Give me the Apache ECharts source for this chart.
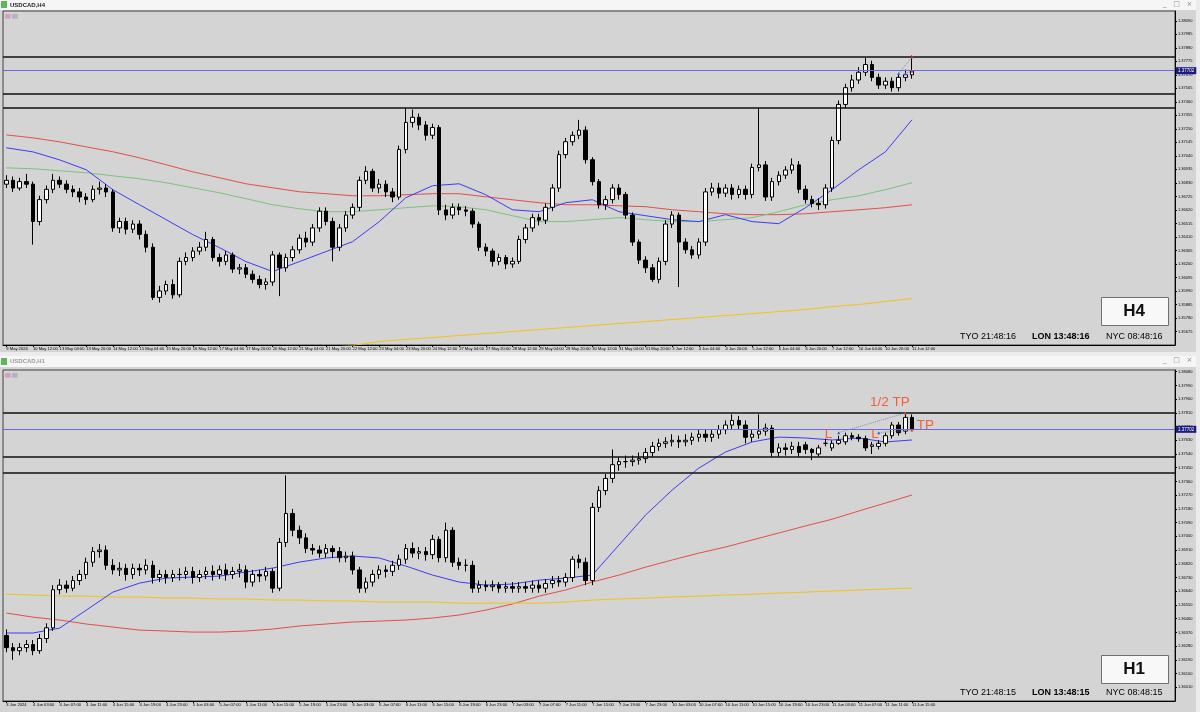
<!DOCTYPE html>
<html><head><meta charset="utf-8">
<script src="https://cdn.jsdelivr.net/npm/echarts@6/dist/echarts.min.js"></script>
<style>html,body{margin:0;padding:0;background:#d4d4d4;}#c{width:1200px;height:712px;}</style>
</head><body><div id="c"></div>
<script>
// ---------- DATA ----------
const h4Title = 'USDCAD,H4';
const h1Title = 'USDCAD,H1';
const h4Start = [2024, 4, 9, 20];   // 9 May 2024 20:00 (server time)
const h1Start = [2024, 5, 3, 23];   // 3 Jun 2024 23:00
const barCount = 137;
const futureBars = 39;
// [open, close, low, high]
const h4Ohlc = [
[1.3682,1.3685,1.3679,1.3689],[1.3685,1.3679,1.3676,1.3688],[1.3679,1.3684,1.3677,1.3687],[1.3684,1.3682,1.3679,1.3690],
[1.3682,1.3653,1.3635,1.3684],[1.3653,1.3670,1.3650,1.3673],[1.3670,1.3678,1.3667,1.3681],[1.3678,1.3685,1.3675,1.3690],
[1.3685,1.3682,1.3679,1.3688],[1.3682,1.3678,1.3675,1.3685],[1.3678,1.3676,1.3672,1.3681],[1.3676,1.3672,1.3668,1.3679],
[1.3672,1.3670,1.3666,1.3675],[1.3670,1.3678,1.3668,1.3681],[1.3678,1.3679,1.3674,1.3684],[1.3679,1.3676,1.3672,1.3682],
[1.3676,1.3648,1.3645,1.3678],[1.3648,1.3653,1.3644,1.3656],[1.3653,1.3647,1.3643,1.3656],[1.3647,1.3651,1.3644,1.3654],
[1.3651,1.3643,1.3639,1.3654],[1.3643,1.3633,1.3629,1.3646],[1.3633,1.3594,1.3592,1.3636],[1.3594,1.3599,1.3590,1.3603],
[1.3599,1.3604,1.3596,1.3607],[1.3604,1.3596,1.3593,1.3608],[1.3596,1.3622,1.3594,1.3625],[1.3622,1.3625,1.3619,1.3629],
[1.3625,1.3630,1.3622,1.3633],[1.3630,1.3633,1.3627,1.3637],[1.3633,1.3639,1.3630,1.3645],[1.3639,1.3625,1.3622,1.3641],
[1.3625,1.3622,1.3618,1.3628],[1.3622,1.3627,1.3619,1.3630],[1.3627,1.3616,1.3613,1.3629],[1.3616,1.3617,1.3612,1.3620],
[1.3617,1.3612,1.3609,1.3620],[1.3612,1.3608,1.3605,1.3615],[1.3608,1.3604,1.3601,1.3611],[1.3604,1.3606,1.3600,1.3609],
[1.3606,1.3627,1.3603,1.3630],[1.3627,1.3617,1.3595,1.3629],[1.3617,1.3625,1.3614,1.3628],[1.3625,1.3631,1.3622,1.3634],
[1.3631,1.3640,1.3628,1.3643],[1.3640,1.3637,1.3633,1.3645],[1.3637,1.3648,1.3634,1.3651],[1.3648,1.3661,1.3645,1.3664],
[1.3661,1.3653,1.3650,1.3664],[1.3653,1.3633,1.3622,1.3656],[1.3633,1.3648,1.3630,1.3651],[1.3648,1.3658,1.3645,1.3661],
[1.3658,1.3664,1.3655,1.3667],[1.3664,1.3685,1.3661,1.3688],[1.3685,1.3692,1.3682,1.3696],[1.3692,1.3679,1.3676,1.3694],
[1.3679,1.3682,1.3675,1.3686],[1.3682,1.3676,1.3672,1.3685],[1.3676,1.3672,1.3668,1.3679],[1.3672,1.3709,1.3670,1.3712],
[1.3709,1.3730,1.3706,1.3741],[1.3730,1.3734,1.3726,1.3740],[1.3734,1.3728,1.3724,1.3737],[1.3728,1.3720,1.3716,1.3731],
[1.3720,1.3726,1.3717,1.3729],[1.3726,1.3662,1.3658,1.3728],[1.3662,1.3658,1.3654,1.3666],[1.3658,1.3664,1.3655,1.3667],
[1.3664,1.3662,1.3658,1.3667],[1.3662,1.3661,1.3657,1.3665],[1.3661,1.3651,1.3648,1.3663],[1.3651,1.3633,1.3630,1.3653],
[1.3633,1.3630,1.3626,1.3636],[1.3630,1.3622,1.3618,1.3632],[1.3622,1.3625,1.3619,1.3628],[1.3625,1.3620,1.3616,1.3627],
[1.3620,1.3622,1.3617,1.3625],[1.3622,1.3639,1.3620,1.3642],[1.3639,1.3648,1.3636,1.3651],[1.3648,1.3656,1.3645,1.3659],
[1.3656,1.3654,1.3650,1.3659],[1.3654,1.3664,1.3651,1.3667],[1.3664,1.3679,1.3661,1.3682],[1.3679,1.3705,1.3676,1.3708],
[1.3705,1.3715,1.3702,1.3718],[1.3715,1.3720,1.3712,1.3723],[1.3720,1.3724,1.3717,1.3732],[1.3724,1.3701,1.3698,1.3727],
[1.3701,1.3684,1.3681,1.3703],[1.3684,1.3666,1.3663,1.3686],[1.3666,1.3670,1.3662,1.3673],[1.3670,1.3679,1.3667,1.3682],
[1.3679,1.3674,1.3670,1.3682],[1.3674,1.3658,1.3655,1.3676],[1.3658,1.3637,1.3634,1.3660],[1.3637,1.3623,1.3620,1.3639],
[1.3623,1.3617,1.3613,1.3626],[1.3617,1.3608,1.3606,1.3620],[1.3608,1.3622,1.3605,1.3625],[1.3622,1.3651,1.3619,1.3654],
[1.3651,1.3658,1.3648,1.3661],[1.3658,1.3637,1.3602,1.3660],[1.3637,1.3631,1.3628,1.3640],[1.3631,1.3627,1.3624,1.3634],
[1.3627,1.3637,1.3624,1.3640],[1.3637,1.3676,1.3634,1.3679],[1.3676,1.3679,1.3673,1.3683],[1.3679,1.3675,1.3671,1.3683],
[1.3675,1.3679,1.3672,1.3682],[1.3679,1.3674,1.3670,1.3682],[1.3674,1.3678,1.3671,1.3681],[1.3678,1.3674,1.3670,1.3681],
[1.3674,1.3695,1.3671,1.3698],[1.3695,1.3697,1.3692,1.3741],[1.3697,1.3672,1.3669,1.3700],[1.3672,1.3684,1.3669,1.3687],
[1.3684,1.3689,1.3681,1.3692],[1.3689,1.3693,1.3686,1.3696],[1.3693,1.3697,1.3690,1.3702],[1.3697,1.3678,1.3675,1.3700],
[1.3678,1.3670,1.3667,1.3681],[1.3670,1.3667,1.3664,1.3673],[1.3667,1.3666,1.3662,1.3671],[1.3666,1.3679,1.3663,1.3682],
[1.3679,1.3716,1.3676,1.3719],[1.3716,1.3744,1.3713,1.3747],[1.3744,1.3757,1.3741,1.3760],[1.3757,1.3763,1.3754,1.3767],
[1.3763,1.3769,1.3760,1.3773],[1.3769,1.3775,1.3766,1.3780],[1.3775,1.3765,1.3762,1.3778],[1.3765,1.3759,1.3756,1.3768],
[1.3759,1.3762,1.3756,1.3765],[1.3762,1.3757,1.3754,1.3765],[1.3757,1.3765,1.3754,1.3768],[1.3765,1.3767,1.3762,1.3771],
[1.3767,1.3770,1.3764,1.3782]
];
const h1Ohlc = [
[1.3635,1.3627,1.3624,1.3639],[1.3627,1.3625,1.3619,1.3630],[1.3625,1.3627,1.3622,1.3630],[1.3627,1.3629,1.3624,1.3632],
[1.3629,1.3625,1.3622,1.3632],[1.3625,1.3633,1.3623,1.3636],[1.3633,1.3640,1.3630,1.3643],[1.3640,1.3665,1.3638,1.3668],
[1.3665,1.3668,1.3662,1.3672],[1.3668,1.3666,1.3663,1.3671],[1.3666,1.3671,1.3664,1.3674],[1.3671,1.3675,1.3668,1.3678],
[1.3675,1.3683,1.3672,1.3686],[1.3683,1.3690,1.3680,1.3693],[1.3690,1.3691,1.3686,1.3695],[1.3691,1.3681,1.3678,1.3694],
[1.3681,1.3678,1.3675,1.3685],[1.3678,1.3679,1.3674,1.3683],[1.3679,1.3675,1.3671,1.3682],[1.3675,1.3679,1.3672,1.3682],
[1.3679,1.3678,1.3674,1.3682],[1.3678,1.3681,1.3675,1.3685],[1.3681,1.3673,1.3669,1.3684],[1.3673,1.3675,1.3670,1.3678],
[1.3675,1.3673,1.3669,1.3678],[1.3673,1.3675,1.3670,1.3678],[1.3675,1.3675,1.3671,1.3679],[1.3675,1.3677,1.3672,1.3680],
[1.3677,1.3673,1.3669,1.3680],[1.3673,1.3675,1.3670,1.3678],[1.3675,1.3677,1.3672,1.3680],[1.3677,1.3675,1.3671,1.3681],
[1.3675,1.3678,1.3672,1.3681],[1.3678,1.3675,1.3671,1.3682],[1.3675,1.3677,1.3672,1.3680],[1.3677,1.3678,1.3673,1.3682],
[1.3678,1.3670,1.3666,1.3681],[1.3670,1.3675,1.3667,1.3678],[1.3675,1.3674,1.3670,1.3678],[1.3674,1.3677,1.3671,1.3680],
[1.3677,1.3666,1.3663,1.3679],[1.3666,1.3696,1.3664,1.3699],[1.3696,1.3715,1.3693,1.3740],[1.3715,1.3704,1.3700,1.3718],
[1.3704,1.3699,1.3695,1.3707],[1.3699,1.3692,1.3689,1.3702],[1.3692,1.3691,1.3688,1.3695],[1.3691,1.3689,1.3686,1.3694],
[1.3689,1.3692,1.3686,1.3695],[1.3692,1.3690,1.3686,1.3694],[1.3690,1.3686,1.3683,1.3693],[1.3686,1.3687,1.3683,1.3690],
[1.3687,1.3678,1.3675,1.3690],[1.3678,1.3666,1.3663,1.3680],[1.3666,1.3670,1.3663,1.3673],[1.3670,1.3675,1.3667,1.3678],
[1.3675,1.3678,1.3672,1.3681],[1.3678,1.3677,1.3673,1.3681],[1.3677,1.3681,1.3674,1.3684],[1.3681,1.3685,1.3678,1.3688],
[1.3685,1.3692,1.3682,1.3695],[1.3692,1.3689,1.3686,1.3696],[1.3689,1.3690,1.3685,1.3693],[1.3690,1.3688,1.3684,1.3693],
[1.3688,1.3698,1.3685,1.3701],[1.3698,1.3686,1.3683,1.3700],[1.3686,1.3704,1.3683,1.3709],[1.3704,1.3683,1.3680,1.3706],
[1.3683,1.3681,1.3678,1.3686],[1.3681,1.3681,1.3677,1.3685],[1.3681,1.3666,1.3663,1.3684],[1.3666,1.3668,1.3663,1.3671],
[1.3668,1.3667,1.3664,1.3671],[1.3667,1.3668,1.3664,1.3671],[1.3668,1.3666,1.3663,1.3670],[1.3666,1.3667,1.3663,1.3670],
[1.3667,1.3666,1.3663,1.3670],[1.3666,1.3667,1.3663,1.3670],[1.3667,1.3666,1.3663,1.3670],[1.3666,1.3668,1.3663,1.3671],
[1.3668,1.3666,1.3663,1.3671],[1.3666,1.3669,1.3663,1.3672],[1.3669,1.3671,1.3666,1.3674],[1.3671,1.3670,1.3667,1.3674],
[1.3670,1.3673,1.3667,1.3676],[1.3673,1.3685,1.3670,1.3687],[1.3685,1.3683,1.3679,1.3688],[1.3683,1.3671,1.3668,1.3686],
[1.3671,1.3719,1.3668,1.3722],[1.3719,1.3730,1.3716,1.3733],[1.3730,1.3738,1.3727,1.3741],[1.3738,1.3747,1.3735,1.3757],
[1.3747,1.3749,1.3743,1.3752],[1.3749,1.3749,1.3745,1.3753],[1.3749,1.3750,1.3746,1.3753],[1.3750,1.3751,1.3747,1.3755],
[1.3751,1.3755,1.3748,1.3758],[1.3755,1.3759,1.3752,1.3762],[1.3759,1.3761,1.3756,1.3764],[1.3761,1.3762,1.3758,1.3765],
[1.3762,1.3763,1.3759,1.3767],[1.3763,1.3762,1.3758,1.3766],[1.3762,1.3763,1.3759,1.3767],[1.3763,1.3765,1.3760,1.3768],
[1.3765,1.3767,1.3762,1.3770],[1.3767,1.3765,1.3762,1.3770],[1.3765,1.3767,1.3762,1.3770],[1.3767,1.3770,1.3764,1.3773],
[1.3770,1.3773,1.3767,1.3776],[1.3773,1.3776,1.3770,1.3780],[1.3776,1.3773,1.3770,1.3779],[1.3773,1.3765,1.3761,1.3776],
[1.3765,1.3767,1.3762,1.3770],[1.3767,1.3769,1.3764,1.3780],[1.3769,1.3771,1.3766,1.3774],[1.3771,1.3755,1.3752,1.3773],
[1.3755,1.3758,1.3752,1.3761],[1.3758,1.3757,1.3753,1.3761],[1.3757,1.3759,1.3754,1.3762],[1.3759,1.3755,1.3752,1.3762],
[1.3760,1.3757,1.3754,1.3762],[1.3757,1.3755,1.3750,1.3758],[1.3754,1.3758,1.3752,1.3760],[1.3761,1.3761,1.3759,1.3764],
[1.3758,1.3761,1.3756,1.3763],[1.3761,1.3763,1.3760,1.3766],[1.3762,1.3766,1.3760,1.3768],[1.3766,1.3765,1.3763,1.3768],
[1.3765,1.3764,1.3762,1.3767],[1.3764,1.3758,1.3756,1.3766],[1.3759,1.3760,1.3754,1.3762],[1.3759,1.3761,1.3757,1.3763],
[1.3761,1.3766,1.3759,1.3768],[1.3766,1.3773,1.3764,1.3775],[1.3773,1.3768,1.3766,1.3775],[1.3769,1.3778,1.3767,1.3781],
[1.3778,1.3770,1.3769,1.3780]
];
// moving averages sampled every 4 bars (bar 0,4,...,136)
const h4MaBlue = [1.37103,1.37071,1.37009,1.36932,1.36777,1.36660,1.36544,1.36428,1.36327,1.36218,1.36141,1.36218,1.36296,1.36373,1.36529,1.36715,1.36808,1.36823,1.36738,1.36621,1.36606,1.36676,1.36699,1.36606,1.36575,1.36544,1.36529,1.36583,1.36529,1.36513,1.36637,1.36777,1.36932,1.37071,1.37320];
const h4MaRed = [1.37203,1.37180,1.37149,1.37110,1.37072,1.37025,1.36971,1.36916,1.36870,1.36823,1.36792,1.36761,1.36746,1.36730,1.36730,1.36738,1.36746,1.36746,1.36722,1.36699,1.36676,1.36660,1.36660,1.36652,1.36645,1.36621,1.36606,1.36590,1.36583,1.36583,1.36590,1.36606,1.36621,1.36637,1.36660];
const h4MaGreen = [1.36947,1.36940,1.36924,1.36909,1.36885,1.36862,1.36831,1.36792,1.36753,1.36707,1.36660,1.36629,1.36606,1.36606,1.36621,1.36637,1.36652,1.36645,1.36621,1.36575,1.36529,1.36529,1.36544,1.36560,1.36544,1.36529,1.36529,1.36544,1.36560,1.36606,1.36660,1.36699,1.36730,1.36777,1.36831];
const h4MaYellow = [null,null,null,null,null,null,null,null,null,null,null,null,1.35551,1.35566,1.35597,1.35613,1.35628,1.35644,1.35659,1.35675,1.35690,1.35706,1.35721,1.35737,1.35752,1.35768,1.35783,1.35799,1.35814,1.35830,1.35845,1.35869,1.35884,1.35908,1.35931];
const h1MaBlue = [1.36366,1.36366,1.36398,1.36516,1.36634,1.36693,1.36726,1.36733,1.36739,1.36766,1.36792,1.36831,1.36858,1.36871,1.36858,1.36805,1.36746,1.36700,1.36680,1.36687,1.36713,1.36726,1.36746,1.36943,1.37140,1.37304,1.37448,1.37553,1.37619,1.37651,1.37645,1.37632,1.37645,1.37619,1.37632];
const h1MaRed = [1.36497,1.36470,1.36451,1.36425,1.36405,1.36385,1.36379,1.36372,1.36372,1.36379,1.36392,1.36412,1.36425,1.36438,1.36444,1.36451,1.36464,1.36484,1.36516,1.36556,1.36608,1.36648,1.36700,1.36746,1.36798,1.36845,1.36890,1.36930,1.36976,1.37022,1.37068,1.37112,1.37166,1.37218,1.37271];
const h1MaYellow = [1.36621,1.36615,1.36608,1.36608,1.36602,1.36602,1.36595,1.36595,1.36589,1.36589,1.36582,1.36582,1.36576,1.36576,1.36569,1.36569,1.36569,1.36562,1.36562,1.36562,1.36562,1.36569,1.36582,1.36589,1.36595,1.36602,1.36608,1.36615,1.36621,1.36628,1.36634,1.36641,1.36648,1.36654,1.36661];
const levels = [1.37808, 1.37525, 1.37415];
const bidPrice = 1.37702;
// trades: [entryBar, entryPrice, exitBar, exitPrice]
const h1Trades = [[125, 1.37680, 135, 1.37809], [131, 1.37680, 136, 1.37698]];
const h4Trades = [[134, 1.37680, 136, 1.37809], [135, 1.37680, 136, 1.37698]];
// annotations on the H1 chart: [bar, price, text]
const h1Notes = [[133, 1.37878, '1/2 TP'], [138, 1.37730, 'TP'], [123, 1.37671, 'L'], [130, 1.37671, 'L']];
const h4Axis = {min: 1.35570, max: 1.38166, step: 0.00105};
const h1Axis = {min: 1.35920, max: 1.38091, step: 0.00090};
const clockH4 = ['TYO 21:48:16', 'LON 13:48:16', 'NYC 08:48:16'];
const clockH1 = ['TYO 21:48:15', 'LON 13:48:15', 'NYC 08:48:15'];

// ---------- BUILD ----------
const MON = ['Jan','Feb','Mar','Apr','May','Jun','Jul','Aug','Sep','Oct','Nov','Dec'];
function makeTimes(s, stepH){
  const out = []; let t = Date.UTC(s[0], s[1], s[2], s[3]);
  while (out.length < barCount){
    const d = new Date(t); const wd = d.getUTCDay();
    if (wd !== 0 && wd !== 6){
      const hh = String(d.getUTCHours()).padStart(2,'0');
      out.push(out.length === 0 ? d.getUTCDate()+' '+MON[d.getUTCMonth()]+' '+d.getUTCFullYear()
                                : d.getUTCDate()+' '+MON[d.getUTCMonth()]+' '+hh+':00');
    }
    t += stepH*3600000;
  }
  for (let i=0;i<futureBars;i++) out.push('');
  return out;
}
const h4Times = makeTimes(h4Start, 4);
const h1Times = makeTimes(h1Start, 1);
const sampled = arr => arr.map((v,i)=>[i*4, v]);
const showIdx = (i) => i % 4 === 0 && i < barCount;

function xAxisCfg(grid, data){
  return {type:'category', gridIndex:grid, data:data, boundaryGap:true,
    axisLine:{show:true, lineStyle:{color:'#000', width:1}},
    axisTick:{show:true, interval:showIdx, alignWithLabel:true, length:2, lineStyle:{color:'#000'}},
    axisLabel:{interval:showIdx, fontSize:4.1, color:'#000', align:'left', margin:2, fontFamily:'Liberation Sans', hideOverlap:false},
    splitLine:{show:false}};
}
function yAxisCfg(grid, ax){
  return {type:'value', gridIndex:grid, position:'right', min:ax.min, max:ax.max, interval:ax.step,
    axisLine:{show:true, lineStyle:{color:'#000'}},
    axisTick:{show:true, length:2, lineStyle:{color:'#000'}},
    axisLabel:{fontSize:4, color:'#000', margin:3, fontFamily:'Liberation Sans', showMinLabel:false, showMaxLabel:false,
      formatter: v => v.toFixed(5)},
    splitLine:{show:false}};
}
function candle(grid, data){
  return {type:'candlestick', xAxisIndex:grid, yAxisIndex:grid, data:data, barWidth:4, z:3,
    itemStyle:{color:'#ffffff', color0:'#000000', borderColor:'#000000', borderColor0:'#000000', borderWidth:1}};
}
function levelSeries(grid){
  return {type:'line', xAxisIndex:grid, yAxisIndex:grid, data:[], silent:true, z:2,
    markLine:{silent:true, symbol:['none','none'], animation:false, precision:5,
      data:[
        ...levels.map(v=>({yAxis:v, lineStyle:{color:'#111', width:1.7, type:'solid'}, label:{show:false}})),
        {yAxis:bidPrice, lineStyle:{color:'#6a6ad8', width:1, type:'solid'},
         label:{show:true, position:'end', formatter:bidPrice.toFixed(5), color:'#fff', backgroundColor:'#1c1c80',
                fontSize:4.5, padding:[1,2], distance:1, fontFamily:'Liberation Sans'}}
      ]}};
}
function maLine(grid, arr, color){
  return {type:'line', xAxisIndex:grid, yAxisIndex:grid, data:sampled(arr), showSymbol:false, smooth:false,
    lineStyle:{color:color, width:1}, clip:true, silent:true, z:1};
}
function tradeLines(grid, trades){
  return trades.map(t => ({type:'line', xAxisIndex:grid, yAxisIndex:grid,
    data:[{value:[t[0],t[1]], itemStyle:{color:'#3a5fd0'}}, {value:[t[2],t[3]], itemStyle:{color:'#e0402a'}}],
    lineStyle:{color:'#7d8fb8', width:1, type:'dotted'}, symbol:'triangle', symbolSize:3, showSymbol:true,
    silent:true, z:5}));
}

const titleText = (x, y, txt, col) => ({type:'text', left:x, top:y, z:50,
  style:{text:txt, fill:col, font:'bold 6px "Liberation Sans"'}});
function clock(yTop, arr){
  return [
    {type:'text', left:960, top:yTop, z:60, style:{text:arr[0], fill:'#000', font:'9px "Liberation Sans"'}},
    {type:'text', left:1032, top:yTop, z:60, style:{text:arr[1], fill:'#000', font:'bold 9px "Liberation Sans"'}},
    {type:'text', left:1106, top:yTop, z:60, style:{text:arr[2], fill:'#000', font:'9px "Liberation Sans"'}}
  ];
}
function tfBox(yTop, txt){
  return [
    {type:'rect', left:1101, top:yTop, z:60, shape:{width:67, height:28},
      style:{fill:'#f8f8f8', stroke:'#707070', lineWidth:1}},
    {type:'text', x:1134, y:yTop+14, z:61, style:{text:txt, fill:'#111', font:'bold 17px "Liberation Sans"',
      align:'center', verticalAlign:'middle'}}
  ];
}
function winButtons(yTop){
  return {type:'text', left:1163, top:yTop, z:50, style:{text:'_   \u25a1   \u00d7', fill:'#888', font:'7px "DejaVu Sans"'}};
}

const graphic = [
  {type:'rect', left:0, top:0, z:-10, shape:{width:1200, height:10}, style:{fill:'#f6f6f6'}},
  {type:'rect', left:1, top:1, z:40, shape:{width:6, height:7}, style:{fill:'#5db85d'}},
  titleText(10, 2, h4Title, '#222'),
  winButtons(1),
  {type:'rect', left:5, top:14, z:40, shape:{width:5, height:4}, style:{fill:'#e99aa0', stroke:'#9db6e0', lineWidth:0.6}},
  {type:'rect', left:12, top:14, z:40, shape:{width:5, height:4}, style:{fill:'#9db6e0', stroke:'#e99aa0', lineWidth:0.6}},
  {type:'rect', left:0, top:352, z:-10, shape:{width:1200, height:4}, style:{fill:'#ececec'}},
  {type:'rect', left:0, top:356, z:-10, shape:{width:1200, height:11}, style:{fill:'#f6f6f6'}},
  {type:'rect', left:1, top:358, z:40, shape:{width:6, height:7}, style:{fill:'#5db85d'}},
  titleText(10, 358, h1Title, '#9a9a9a'),
  winButtons(357),
  {type:'rect', left:5, top:373, z:40, shape:{width:5, height:4}, style:{fill:'#e99aa0', stroke:'#9db6e0', lineWidth:0.6}},
  {type:'rect', left:12, top:373, z:40, shape:{width:5, height:4}, style:{fill:'#9db6e0', stroke:'#e99aa0', lineWidth:0.6}},
  {type:'rect', left:1196, top:0, z:-10, shape:{width:4, height:712}, style:{fill:'#ececec'}},
  ...tfBox(297, 'H4'), ...clock(332, clockH4),
  ...tfBox(655, 'H1'), ...clock(688, clockH1)
];

const option = {
  backgroundColor:'#d4d4d4',
  animation:false,
  grid:[
    {left:3, top:11, width:1172, height:334, show:true, borderColor:'#404040', borderWidth:1, backgroundColor:'transparent'},
    {left:3, top:370, width:1172, height:331, show:true, borderColor:'#404040', borderWidth:1, backgroundColor:'transparent'}
  ],
  xAxis:[xAxisCfg(0, h4Times), xAxisCfg(1, h1Times)],
  yAxis:[yAxisCfg(0, h4Axis), yAxisCfg(1, h1Axis)],
  graphic: graphic,
  series:[
    maLine(0, h4MaRed, '#e0504a'), maLine(0, h4MaGreen, '#7cc27c'), maLine(0, h4MaBlue, '#3c3cf0'), maLine(0, h4MaYellow, '#f2c21b'),
    levelSeries(0),
    candle(0, h4Ohlc),
    ...tradeLines(0, h4Trades),
    maLine(1, h1MaRed, '#e0504a'), maLine(1, h1MaYellow, '#f2c21b'), maLine(1, h1MaBlue, '#3c3cf0'),
    levelSeries(1),
    candle(1, h1Ohlc),
    ...tradeLines(1, h1Trades)
  ]
};
const chart = echarts.init(document.getElementById('c'), null, {renderer:'canvas'});
chart.setOption(option);
// place the trade annotations through the library's own scales
const noteShift = {'1/2 TP': -2, 'TP': 0, 'L': 3};
const notes = h1Notes.map(n => {
  const p = chart.convertToPixel({xAxisIndex:1, yAxisIndex:1}, [n[0], n[1]]);
  return {type:'text', x:p[0] + noteShift[n[2]], y:p[1], z:70,
    style:{text:n[2], fill:'#f0603c', font:'13.5px "Liberation Sans"', align:'center', verticalAlign:'middle'}};
});
chart.setOption({graphic: graphic.concat(notes)});
</script></body></html>
